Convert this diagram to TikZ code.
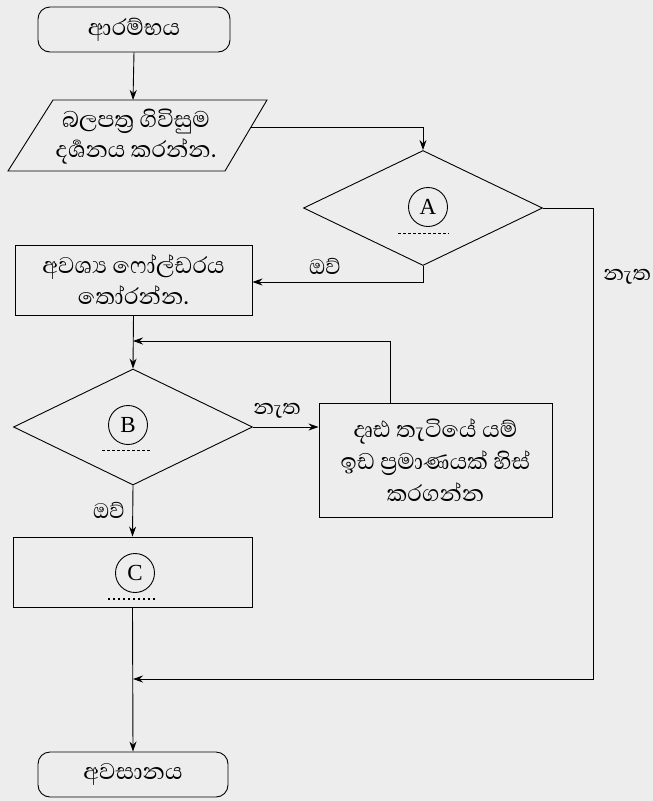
\documentclass[tikz,border=0pt]{standalone}
\usepackage{fontspec}
\usetikzlibrary{shapes.geometric,arrows.meta}
\newfontfamily\sinfont[Script=Sinhala]{Abhaya Libre}
\setmainfont{Liberation Serif}
\begin{document}
\begin{tikzpicture}[x=1pt,y=-1pt,
  line width=0.9pt,
  arr/.style={-{Stealth[length=10pt,width=7pt]}},
  term/.style={draw,rounded corners=12pt,minimum width=192pt,minimum height=45pt,inner sep=0pt,font=\sinfont\fontsize{29}{30}\selectfont},
  procbox/.style={draw,minimum width=237pt,minimum height=70pt,inner sep=0pt,align=center,font=\sinfont\fontsize{29}{31}\selectfont},
  decbox/.style={draw,diamond,inner sep=0pt,minimum width=239pt,minimum height=115pt},
  letter/.style={draw,circle,minimum size=39pt,inner sep=0pt,font=\fontsize{23}{23}\selectfont},
  dots/.style={line width=0.8pt,dash pattern=on 2.5pt off 2.5pt},
  lab/.style={font=\sinfont\fontsize{27}{28}\selectfont,inner sep=1pt}]
\useasboundingbox[fill=black!7] (0,0) rectangle (653,801);

% start
\node[term] (start) at (134,29.5) {ආරම්භය};

% parallelogram (display)
\coordinate (p1) at (8,171);
\coordinate (p2) at (53,100);
\coordinate (p3) at (267,100);
\coordinate (p4) at (225,171);
\draw (p1) -- (p2) -- (p3) -- (p4) -- cycle;
\node[align=center,inner sep=0pt,font=\sinfont\fontsize{29}{30}\selectfont] (disp) at (136,137) {බලපත්‍ර ගිවිසුම\\දර්‍ශනය කරන්න.};
\coordinate (dtop) at (133,100);
\coordinate (dright) at (251,127);

% decision A
\node[decbox] (decA) at (423,208) {};
\node[letter] (cA) at (428,207) {A};
\coordinate (dA1) at (398,233);
\coordinate (dA2) at (449,233);
\draw[dots] (dA1) -- (dA2);

% folder box
\node[procbox] (folder) at (133.5,280) {අවශ්‍ය ෆෝල්ඩරය\\තෝරන්න.};

% decision B
\node[decbox,minimum height=116pt] (decB) at (133,427) {};
\node[letter] (cB) at (128,425) {B};
\coordinate (dB1) at (102,450);
\coordinate (dB2) at (151,450);
\draw[dots] (dB1) -- (dB2);

% free space box
\node[procbox,minimum width=233pt,minimum height=114pt,font=\sinfont\fontsize{29}{32}\selectfont] (space) at (435.5,460) {දෘඪ තැටියේ යම්\\ඉඩ ප්‍රමාණයක් හිස්\\කරගන්න};

% C box
\node[procbox,minimum width=239pt] (boxC) at (132.5,572) {};
\node[letter] (cC) at (135,573) {C};
\coordinate (dC1) at (108,599);
\coordinate (dC2) at (156,599);
\draw[dots,dash pattern=on 1.5pt off 3.5pt,line width=1.2pt] (dC1) -- (dC2);

% end
\node[term,minimum width=190pt] (end) at (133,774.5) {අවසානය};

% junction coordinates
\coordinate (jA) at (423,127);
\coordinate (jAy) at (423,282);
\coordinate (jR1) at (593,208);
\coordinate (jR2) at (593,679);
\coordinate (jM) at (133,679);
\coordinate (jS) at (390,341);
\coordinate (jL) at (133,341);
\coordinate (fy) at (folder.east |- jAy);

% connectors
\draw[arr] (start.south) -- (dtop);
\draw[arr] (dright) -- (jA) -- (decA.north);
\draw[arr] (decA.south) -- (jAy) -- (fy);
\draw[arr] (decA.east) -- (jR1) -- (jR2) -- (jM);
\draw[arr] (folder.south) -- (decB.north);
\draw[arr] (space.north -| jS) -- (jS) -- (jL);
\draw[arr] (decB.east) -- (space.west |- decB.east);
\draw[arr] (decB.south) -- (boxC.north);
\draw[arr] (boxC.south) -- (end.north);

% labels
\node[lab] (lyA) at (325,266) {ඔව්};
\node[lab,anchor=west] (lnA) at (602,277) {නැත};
\node[lab] (lnB) at (277,411) {නැත};
\node[lab] (lyB) at (109,510) {ඔව්};
\end{tikzpicture}
\end{document}
